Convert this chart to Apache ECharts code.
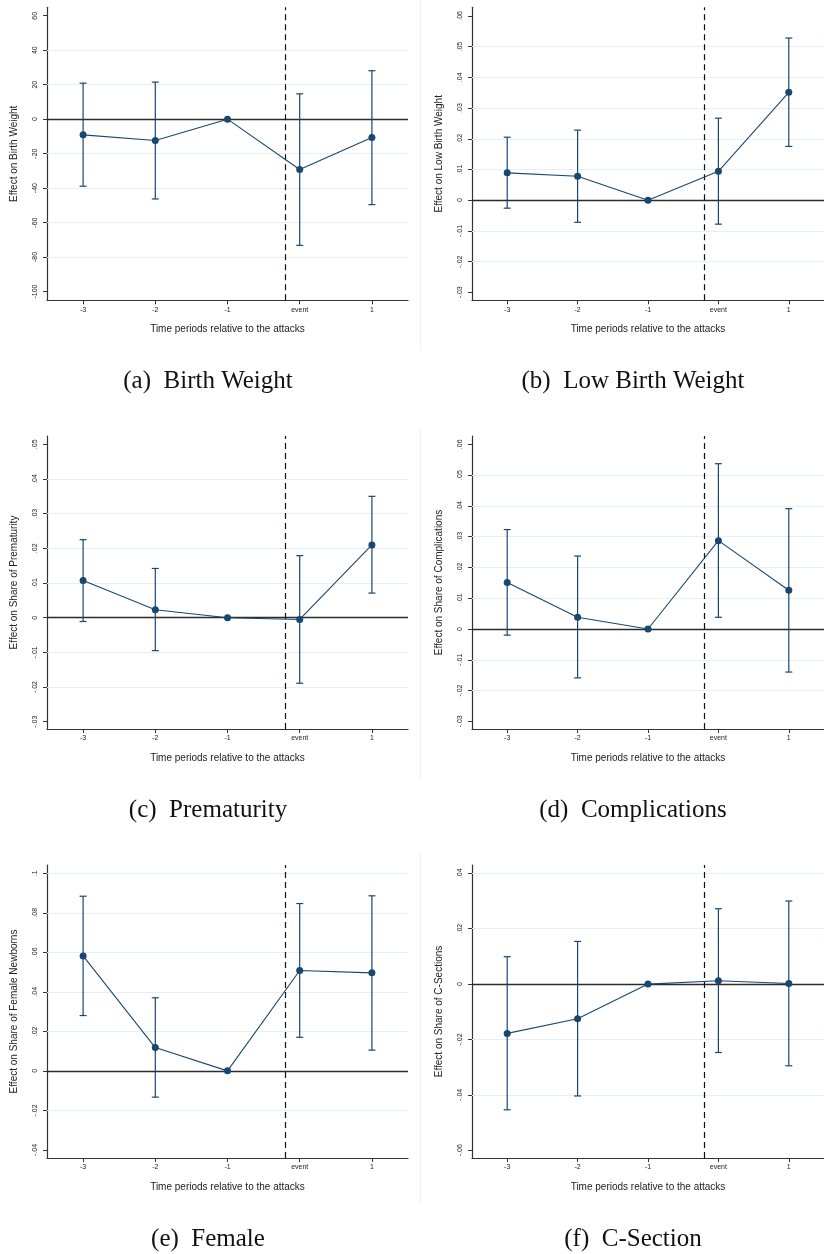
<!DOCTYPE html>
<html>
<head>
<meta charset="utf-8">
<title>Event-study estimates</title>
<script src="https://cdn.jsdelivr.net/npm/echarts@6/dist/echarts.min.js"></script>
<style>
  html, body { margin: 0; padding: 0; background: #ffffff; }
  #chart { width: 824px; height: 1254px; }
</style>
</head>
<body>
<div id="chart"></div>
<script>
// Time periods on the horizontal axis
const categories = ['-3', '-2', '-1', 'event', '1'];
// Position of the attacks marker (between -1 and event, in category index units)
const eventLine = 2.8;
const xTitle = 'Time periods relative to the attacks';

// (a) Birth weight
const bwEst  = [-9.1, -12.4, 0, -29.2, -10.6];
const bwLow  = [-38.9, -46.3, null, -73.2, -49.6];
const bwHigh = [20.9, 21.5, null, 14.7, 28.1];
const bwTicks = [-100, -80, -60, -40, -20, 0, 20, 40, 60];

// (b) Low birth weight
const lbwEst  = [0.0089, 0.0078, 0, 0.0094, 0.0351];
const lbwLow  = [-0.0026, -0.0072, null, -0.0078, 0.0175];
const lbwHigh = [0.0205, 0.0228, null, 0.0267, 0.0528];
const lbwTicks = [-0.03, -0.02, -0.01, 0, 0.01, 0.02, 0.03, 0.04, 0.05, 0.06];

// (c) Prematurity
const preEst  = [0.0107, 0.0023, 0, -0.0005, 0.0210];
const preLow  = [-0.0011, -0.0095, null, -0.0189, 0.0071];
const preHigh = [0.0225, 0.0142, null, 0.0179, 0.0350];
const preTicks = [-0.03, -0.02, -0.01, 0, 0.01, 0.02, 0.03, 0.04, 0.05];

// (d) Complications
const compEst  = [0.0151, 0.0038, 0, 0.0287, 0.0126];
const compLow  = [-0.0020, -0.0159, null, 0.0038, -0.0140];
const compHigh = [0.0323, 0.0237, null, 0.0537, 0.0391];
const compTicks = [-0.03, -0.02, -0.01, 0, 0.01, 0.02, 0.03, 0.04, 0.05, 0.06];

// (e) Female newborns
const femEst  = [0.0582, 0.0118, 0, 0.0508, 0.0496];
const femLow  = [0.0280, -0.0133, null, 0.0170, 0.0105];
const femHigh = [0.0884, 0.0370, null, 0.0847, 0.0886];
const femTicks = [-0.04, -0.02, 0, 0.02, 0.04, 0.06, 0.08, 0.1];

// (f) C-sections
const csEst  = [-0.0178, -0.0125, 0, 0.0012, 0.0002];
const csLow  = [-0.0454, -0.0404, null, -0.0247, -0.0295];
const csHigh = [0.0099, 0.0154, null, 0.0272, 0.0300];
const csTicks = [-0.06, -0.04, -0.02, 0, 0.02, 0.04];

const yTitles = [
  'Effect on Birth Weight',
  'Effect on Low Birth Weight',
  'Effect on Share of Prematurity',
  'Effect on Share of Complications',
  'Effect on Share of Female Newborns',
  'Effect on Share of C-Sections'
];
const captions = [
  '(a)  Birth Weight',
  '(b)  Low Birth Weight',
  '(c)  Prematurity',
  '(d)  Complications',
  '(e)  Female',
  '(f)  C-Section'
];

const panels = [
  { est: bwEst,   low: bwLow,   high: bwHigh,   ticks: bwTicks,   grid: [-80, -60, -40, -20, 20, 40],                    range: [-105.1, 64.9] },
  { est: lbwEst,  low: lbwLow,  high: lbwHigh,  ticks: lbwTicks,  grid: [-0.02, -0.01, 0.01, 0.02, 0.03, 0.04, 0.05],     range: [-0.0326, 0.0628] },
  { est: preEst,  low: preLow,  high: preHigh,  ticks: preTicks,  grid: [-0.02, -0.01, 0.01, 0.02, 0.03, 0.04],           range: [-0.0321, 0.0524] },
  { est: compEst, low: compLow, high: compHigh, ticks: compTicks, grid: [-0.02, -0.01, 0.01, 0.02, 0.03, 0.04, 0.05],     range: [-0.0325, 0.0627] },
  { est: femEst,  low: femLow,  high: femHigh,  ticks: femTicks,  grid: [-0.02, 0.02, 0.04, 0.06, 0.08, 0.1],             range: [-0.0441, 0.1042] },
  { est: csEst,   low: csLow,   high: csHigh,   ticks: csTicks,   grid: [-0.04, -0.02, 0.02, 0.04],                       range: [-0.0628, 0.0430] }
];

// Plot-area placement for the 2 x 3 layout
const colLeft = [47, 472];
const colRight = [416, -9];
const rowTop = [7.3, 436, 865];
const plotHeight = 293;
const captionX = [208, 633];
const captionY = [381, 810, 1239];

const NAVY = '#1a476f';
const AXIS = '#333333';
const FONT = '"Liberation Sans", Arial, Helvetica, sans-serif';

// Stata-style tick labels: drop the leading zero (.05, -.01)
function stataNum(v) {
  const r = Math.round(v * 10000) / 10000;
  if (r === 0) return '0';
  let s = String(r);
  s = s.replace(/^0\./, '.').replace(/^-0\./, '-.');
  return s;
}

function errorBars(params, api) {
  const x = api.value(0);
  const pLo = api.coord([x, api.value(1)]);
  const pHi = api.coord([x, api.value(2)]);
  const cap = 3.5;
  const style = { stroke: NAVY, lineWidth: 1.2, fill: null };
  return {
    type: 'group',
    children: [
      { type: 'line', shape: { x1: pLo[0], y1: pLo[1], x2: pHi[0], y2: pHi[1] }, style: style },
      { type: 'line', shape: { x1: pLo[0] - cap, y1: pLo[1], x2: pLo[0] + cap, y2: pLo[1] }, style: style },
      { type: 'line', shape: { x1: pHi[0] - cap, y1: pHi[1], x2: pHi[0] + cap, y2: pHi[1] }, style: style }
    ]
  };
}

const grids = [], xAxes = [], yAxes = [], series = [], graphics = [];

panels.forEach(function (p, i) {
  const col = i % 2, row = Math.floor(i / 2);
  grids.push({ left: colLeft[col], right: colRight[col], top: rowTop[row], height: plotHeight, containLabel: false });

  // category axis carrying the periods
  xAxes.push({
    type: 'category', gridIndex: i, data: categories, boundaryGap: true,
    axisLine: { show: true, onZero: false, lineStyle: { color: AXIS, width: 1.2 } },
    axisTick: { show: true, alignWithLabel: true, length: 4, lineStyle: { color: AXIS } },
    axisLabel: { fontSize: 7, color: '#222', margin: 6, fontFamily: FONT },
    splitLine: { show: false },
    name: xTitle, nameLocation: 'middle', nameGap: 24,
    nameTextStyle: { fontSize: 10, color: '#222', fontFamily: FONT }
  });
  // hidden numeric axis for the attacks marker
  xAxes.push({ type: 'value', gridIndex: i, min: -0.5, max: 4.5, show: false });

  yAxes.push({
    type: 'value', gridIndex: i, min: p.range[0], max: p.range[1],
    axisLine: { show: true, onZero: false, lineStyle: { color: AXIS, width: 1.2 } },
    axisTick: { show: true, length: 4, customValues: p.ticks, lineStyle: { color: AXIS } },
    axisLabel: {
      customValues: p.ticks, rotate: 90, fontSize: 7, color: '#222', margin: 8,
      fontFamily: FONT, formatter: function (v) { return stataNum(v); }
    },
    splitLine: { show: false },
    name: yTitles[i], nameLocation: 'middle', nameRotate: 90, nameGap: 28,
    nameTextStyle: { fontSize: 10, color: '#222', fontFamily: FONT }
  });

  const catAxis = 2 * i, valAxis = 2 * i + 1;

  // grid lines and zero reference, kept underneath the estimates
  const lines = p.grid.map(function (g) {
    return { yAxis: g, lineStyle: { color: '#e6eff1', width: 1, type: 'solid' } };
  });
  lines.push({ yAxis: 0, lineStyle: { color: '#2b2b2b', width: 1.4, type: 'solid' } });
  series.push({
    type: 'line', xAxisIndex: valAxis, yAxisIndex: i, data: [], silent: true, z: 1,
    markLine: { z: 1, silent: true, symbol: ['none', 'none'], label: { show: false }, animation: false, data: lines }
  });
  // attacks marker
  series.push({
    type: 'line', xAxisIndex: valAxis, yAxisIndex: i, data: [], silent: true, z: 2,
    markLine: {
      z: 2, silent: true, symbol: ['none', 'none'], label: { show: false }, animation: false,
      data: [{ xAxis: eventLine, lineStyle: { color: '#111', width: 1.2, type: [6, 4] } }]
    }
  });

  // confidence intervals
  const ci = [];
  p.low.forEach(function (lo, k) {
    if (lo !== null && p.high[k] !== null) ci.push([k, lo, p.high[k]]);
  });
  series.push({
    type: 'custom', xAxisIndex: catAxis, yAxisIndex: i, data: ci, z: 9,
    encode: { x: 0, y: [1, 2] }, renderItem: errorBars, silent: true
  });

  // point estimates
  series.push({
    type: 'line', xAxisIndex: catAxis, yAxisIndex: i, data: p.est, z: 10,
    symbol: 'circle', symbolSize: 7, showAllSymbol: true,
    itemStyle: { color: NAVY }, lineStyle: { color: NAVY, width: 1.1 }, silent: true
  });

  graphics.push({
    type: 'text', x: captionX[col], y: captionY[row],
    style: {
      text: captions[i], font: '25px "Liberation Serif", "Times New Roman", serif',
      fill: '#111', textAlign: 'center', textVerticalAlign: 'middle'
    }
  });
});

// faint edges of the right-hand figure frames
[[0, 350], [429, 779], [853, 1203]].forEach(function (seg) {
  graphics.push({ type: 'line', shape: { x1: 420.5, y1: seg[0], x2: 420.5, y2: seg[1] }, style: { stroke: '#f0f0f0', lineWidth: 1 } });
});

const chart = echarts.init(document.getElementById('chart'), null, { renderer: 'canvas' });
chart.setOption({
  backgroundColor: '#ffffff',
  animation: false,
  textStyle: { fontFamily: FONT },
  grid: grids, xAxis: xAxes, yAxis: yAxes, series: series, graphic: graphics
});
</script>
</body>
</html>
